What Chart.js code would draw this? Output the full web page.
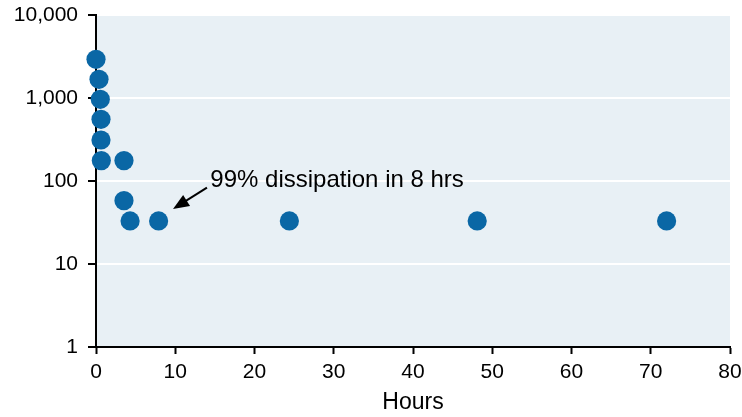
<!DOCTYPE html>
<html>
<head>
    <title>Dissipation</title>
    <script src="https://cdn.jsdelivr.net/npm/chart.js"></script>
    <style>
        body { margin: 0; background: #fff; }
        #wrap { width: 742px; height: 417px; }
    </style>
</head>
<body>
    <div id="wrap"><canvas id="dissipationChart" width="742" height="417"></canvas></div>

    <script>
        // Datos
        const hours = [0, 0.38, 0.54, 0.63, 0.63, 0.67, 3.53, 3.53, 4.3, 7.9, 24.4, 48.1, 72.0];
        const concentration = [2925, 1680, 965, 554, 312, 176, 176, 58, 33, 33, 33, 33, 33];
        const yTickValues = [1, 10, 100, 1000, 10000];
        const yTickLabels = ['1', '10', '100', '1,000', '10,000'];
        const xTickValues = [0, 10, 20, 30, 40, 50, 60, 70, 80];
        const annotationText = '99% dissipation in 8 hrs';

        const FONT = "'Liberation Sans', Arial, sans-serif";

        // Fondo del area del grafico
        const plotBackground = {
            id: 'plotBackground',
            beforeDraw(chart) {
                const a = chart.chartArea;
                const ctx = chart.ctx;
                ctx.save();
                ctx.fillStyle = '#e8f0f5';
                ctx.fillRect(a.left, a.top, a.right - a.left, a.bottom - a.top);
                ctx.restore();
            }
        };

        // Flecha y texto de la anotacion
        const arrowNote = {
            id: 'arrowNote',
            afterDatasetsDraw(chart) {
                const x = chart.scales.x, y = chart.scales.y, ctx = chart.ctx;
                const x1 = x.getPixelForValue(14.0), y1 = y.getPixelForValue(83);
                const x2 = x.getPixelForValue(9.72), y2 = y.getPixelForValue(46);
                const ang = Math.atan2(y2 - y1, x2 - x1);
                const len = 16, half = 6.5;
                ctx.save();
                ctx.strokeStyle = '#000';
                ctx.fillStyle = '#000';
                ctx.lineWidth = 2;
                ctx.beginPath();
                ctx.moveTo(x1, y1);
                ctx.lineTo(x2 - Math.cos(ang) * len * 0.8, y2 - Math.sin(ang) * len * 0.8);
                ctx.stroke();
                ctx.beginPath();
                ctx.moveTo(x2, y2);
                ctx.lineTo(x2 - Math.cos(ang) * len - Math.sin(ang) * half, y2 - Math.sin(ang) * len + Math.cos(ang) * half);
                ctx.lineTo(x2 - Math.cos(ang) * len + Math.sin(ang) * half, y2 - Math.sin(ang) * len - Math.cos(ang) * half);
                ctx.closePath();
                ctx.fill();
                ctx.font = '24px ' + FONT;
                ctx.textAlign = 'left';
                ctx.textBaseline = 'alphabetic';
                ctx.fillText(annotationText, x.getPixelForValue(14.43), y.getPixelForValue(85));
                ctx.restore();
            }
        };

        new Chart(document.getElementById('dissipationChart'), {
            type: 'scatter',
            data: {
                datasets: [{
                    data: hours.map((h, i) => ({ x: h, y: concentration[i] })),
                    backgroundColor: '#0a67a5',
                    borderWidth: 0,
                    pointRadius: 9.6,
                    pointHoverRadius: 9.6,
                    clip: false
                }]
            },
            options: {
                responsive: false,
                animation: false,
                layout: { padding: { top: 15, right: 12, left: 0, bottom: 1 } },
                plugins: {
                    legend: { display: false },
                    tooltip: { enabled: false }
                },
                scales: {
                    x: {
                        type: 'linear',
                        min: 0,
                        max: 80,
                        afterBuildTicks: s => { s.ticks = xTickValues.map(v => ({ value: v })); },
                        afterFit: s => { s.height = 69; s.paddingLeft = 0; s.paddingRight = 0; },
                        grid: { drawOnChartArea: false, tickColor: '#000', tickLength: 7, tickWidth: 2 },
                        border: { color: '#000', width: 2 },
                        ticks: { color: '#000', font: { family: FONT, size: 21 }, padding: 6, maxRotation: 0 },
                        title: { display: true, text: 'Hours', color: '#000', font: { family: FONT, size: 23 }, padding: 0 }
                    },
                    y: {
                        type: 'logarithmic',
                        min: 1,
                        max: 10000,
                        afterBuildTicks: s => { s.ticks = yTickValues.map(v => ({ value: v })); },
                        afterFit: s => { s.width = 96; s.paddingTop = 0; s.paddingBottom = 0; },
                        grid: { color: '#fff', lineWidth: 2, tickColor: '#000', tickLength: 8, tickWidth: 2 },
                        border: { color: '#000', width: 2 },
                        ticks: {
                            color: '#000',
                            font: { family: FONT, size: 21 },
                            padding: 10,
                            callback: (v) => yTickLabels[yTickValues.indexOf(v)]
                        }
                    }
                }
            },
            plugins: [plotBackground, arrowNote]
        });
    </script>
</body>
</html>
